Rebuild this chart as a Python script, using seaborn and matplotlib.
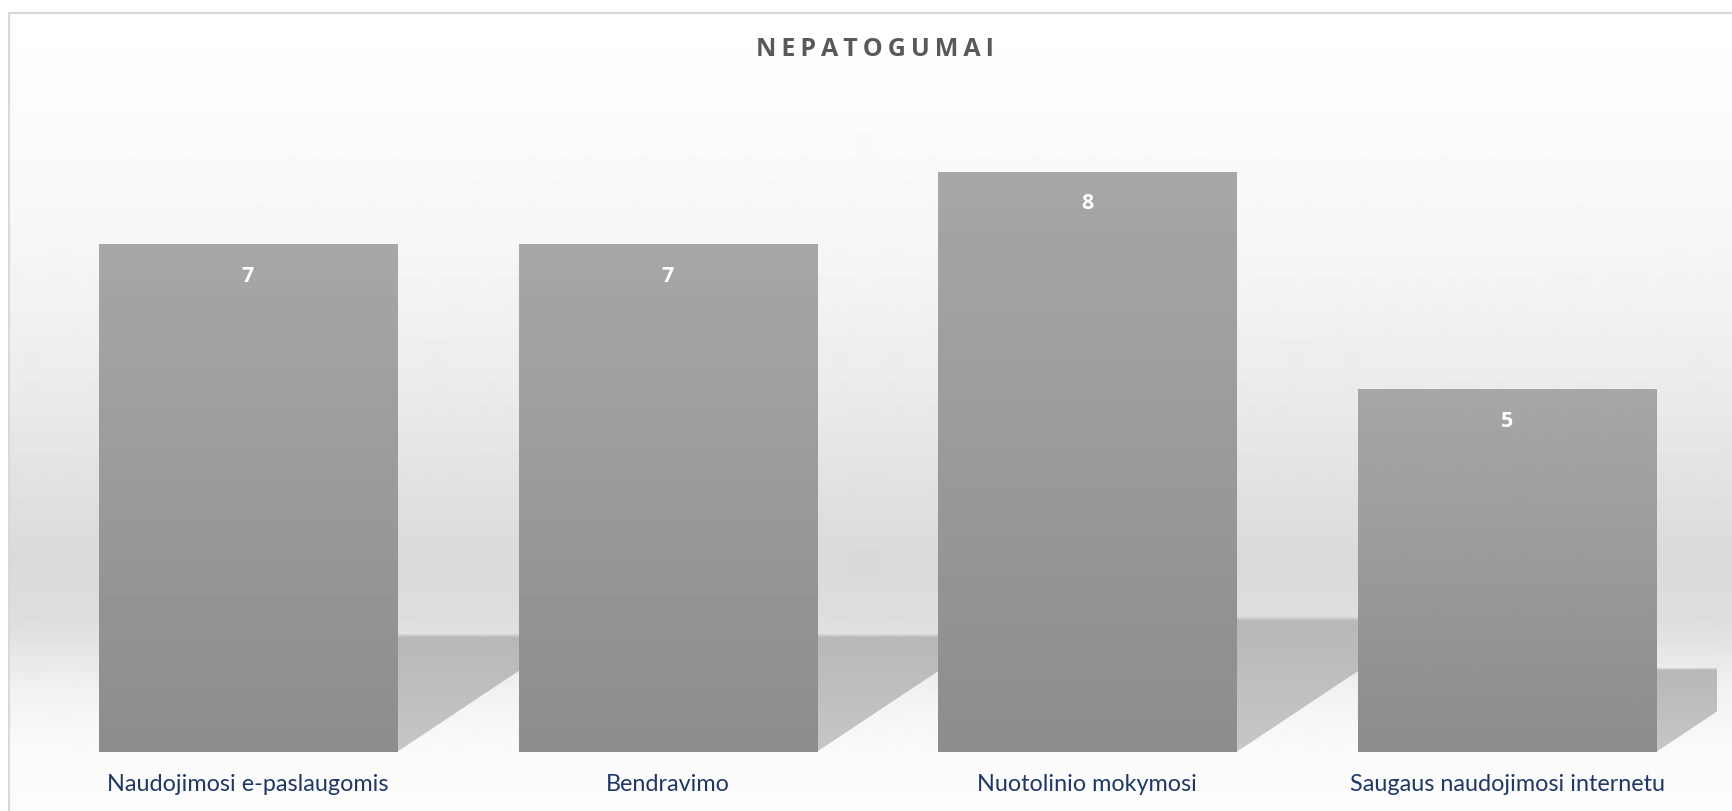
import matplotlib
matplotlib.use("Agg")
import matplotlib.pyplot as plt
import seaborn as sns
import numpy as np
import pandas as pd
from matplotlib.patches import Polygon, Rectangle

# === DATA ===
categories = ["Naudojimosi e-paslaugomis", "Bendravimo", "Nuotolinio mokymosi",
              "Saugaus naudojimosi internetu"]
values = [7, 7, 8, 5]
title = "NEPATOGUMAI"

df = pd.DataFrame({"Kategorija": categories, "Reikšmė": values})

# === STYLE ===
sns.set_theme(style="white")
plt.rcParams["font.family"] = ["Open Sans", "DejaVu Sans"]

W, H = 1732, 812
fig = plt.figure(figsize=(W / 100, H / 100), dpi=100)

# background panel with vertical grey gradient
bg = fig.add_axes([9 / W, 0, 1 - 9 / W, (H - 14) / H])
stops_y = np.array([14, 100, 250, 400, 560, 620, 700, 760, 812])
stops_v = np.array([1.0, 0.99, 0.965, 0.92, 0.855, 0.87, 0.955, 0.985, 0.99])
yy = np.arange(14, 812)
grad = np.interp(yy, stops_y, stops_v)[:, None]
bg.imshow(grad, aspect="auto", cmap="gray", vmin=0, vmax=1,
          extent=[0, 1, 0, 1], interpolation="bilinear")
bg.set_xlim(0, 1)
bg.set_ylim(0, 1)
bg.set_xticks([])
bg.set_yticks([])
for s in ["right", "bottom"]:
    bg.spines[s].set_visible(False)
for s in ["left", "top"]:
    bg.spines[s].set_color("#d9d9d9")
    bg.spines[s].set_linewidth(1.5)

# === MAIN AXES ===
ax = fig.add_axes([38 / W, (H - 753) / H, (1717 - 38) / W, (753 - 100) / H])
ax.set_facecolor("none")
bar_w = 0.71
sns.barplot(data=df, x="Kategorija", y="Reikšmė", color="#9b9b9b",
            width=bar_w, ax=ax, zorder=3, saturation=1, linewidth=0)
bars = [p for p in ax.patches if isinstance(p, Rectangle)]
x_max = len(categories) - 0.5


def clip_right(pts, xm):
    # keep the part of a polygon left of x = xm
    out = []
    n = len(pts)
    for k in range(n):
        p, q = pts[k], pts[(k + 1) % n]
        p_in, q_in = p[0] <= xm, q[0] <= xm
        if p_in:
            out.append(p)
        if p_in != q_in:
            t = (xm - p[0]) / (q[0] - p[0])
            out.append((xm, p[1] + t * (q[1] - p[1])))
    return out


# perspective shadows behind bars (soft top edge)
n_rows = 200
sh_rgba = np.zeros((n_rows, 1, 4))
sh_rgba[..., :3] = np.linspace(0.72, 0.78, n_rows)[:, None, None]
alpha = np.ones(n_rows)
fade = 8
alpha[:fade] = np.linspace(0.0, 1.0, fade)
sh_rgba[:, 0, 3] = alpha
for i, v in enumerate(values):
    h = 0.233 * v
    dx = 0.0605 * v
    xl, xr = i - bar_w / 2, i + bar_w / 2
    pts = clip_right([(xl, 0), (xr, 0), (xr + dx, h), (xl + dx, h)], x_max)
    poly = Polygon(pts, closed=True, facecolor="none", edgecolor="none")
    ax.add_patch(poly)
    im = ax.imshow(sh_rgba, aspect="auto", extent=[xl, xr + dx, 0, h],
                   origin="upper", zorder=1, interpolation="bilinear")
    im.set_clip_path(poly)

# gradient fill on the bars
bar_grad = np.linspace(0.655, 0.55, 128)[:, None]
for patch in bars:
    x0, y0 = patch.get_x(), patch.get_y()
    w, hgt = patch.get_width(), patch.get_height()
    im = ax.imshow(bar_grad, aspect="auto", cmap="gray", vmin=0, vmax=1,
                   extent=[x0, x0 + w, y0, y0 + hgt], origin="upper",
                   zorder=4, interpolation="bilinear")
    im.set_clip_path(patch)
ax.set_xlim(-0.5, x_max)
ax.set_ylim(0, 9)

# value labels inside bars
for i, v in enumerate(values):
    ax.text(i, v - 0.43, str(v), ha="center", va="center", color="white",
            fontsize=15.5, fontweight="bold", zorder=6)

# axes cosmetics
ax.set_xlabel("")
ax.set_ylabel("")
ax.set_yticks([])
for s in ax.spines.values():
    s.set_visible(False)
ax.tick_params(axis="x", length=0, pad=15)
ax.set_xticks(range(len(categories)))
ax.set_xticklabels(categories, color="#1f3864", fontsize=16.8,
                   family=["Lato", "DejaVu Sans"])

# title
fig.text(875 / W, 1 - 49 / H, "\u2009".join(title), ha="center", va="center",
         color="#595959", fontsize=18, fontweight="bold",
         family=["Open Sans", "DejaVu Sans"])

fig.savefig("out.png", dpi=100)
